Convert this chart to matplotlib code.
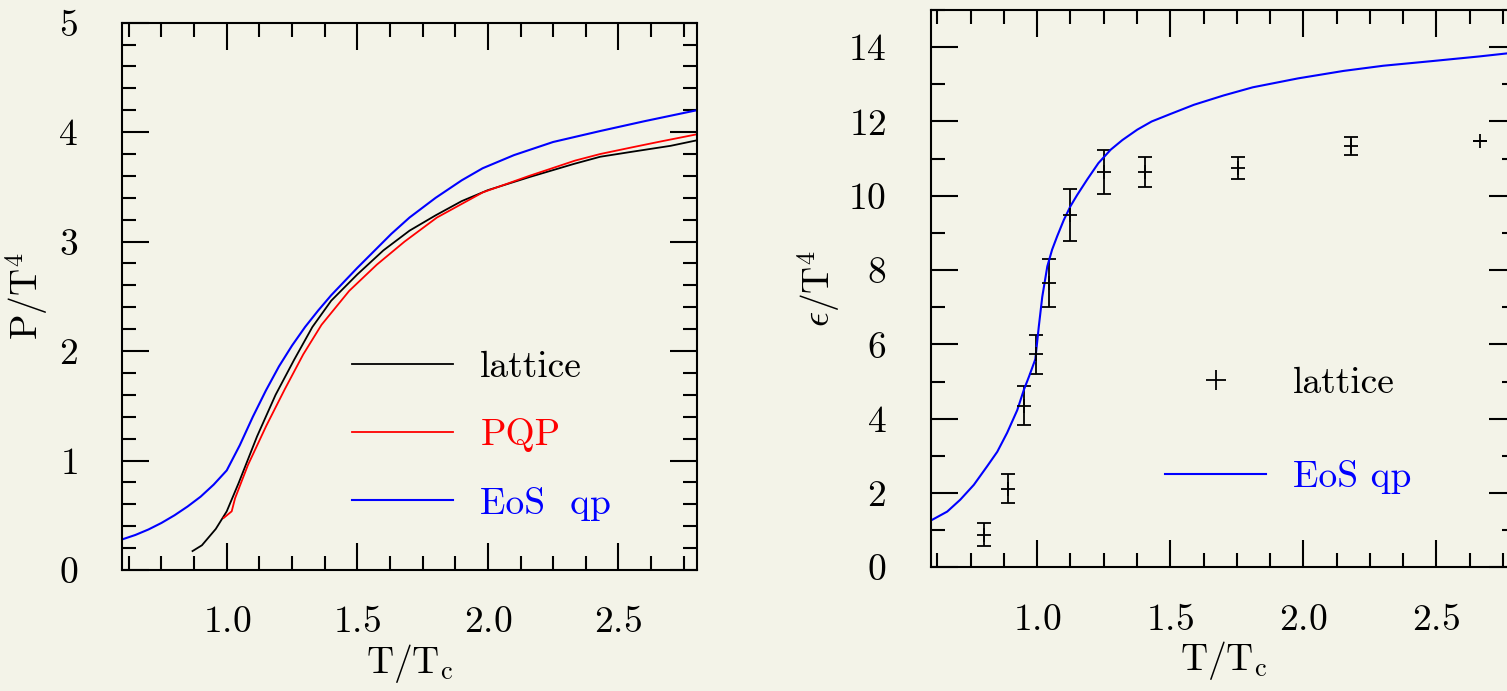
import matplotlib
matplotlib.use("Agg")
from matplotlib import pyplot as plt
from matplotlib.ticker import MultipleLocator

# ---- data ----
# left panel: P/T^4
t_lat = [0.869, 0.905, 0.958, 1.0, 1.046, 1.116, 1.187, 1.258, 1.328, 1.4, 1.5,
         1.6, 1.7, 1.8, 1.9, 2.0, 2.16, 2.33, 2.43, 2.55, 2.7, 2.8]
p_lat = [0.173, 0.226, 0.375, 0.536, 0.797, 1.22, 1.60, 1.92, 2.22, 2.46, 2.70,
         2.92, 3.10, 3.24, 3.37, 3.47, 3.59, 3.71, 3.775, 3.82, 3.875, 3.925]

t_pqp = [0.988, 1.019, 1.032, 1.081, 1.152, 1.222, 1.293, 1.363, 1.469, 1.575, 1.681,
         1.805, 1.981, 2.158, 2.334, 2.43, 2.55, 2.652, 2.8]
p_pqp = [0.475, 0.536, 0.656, 0.958, 1.32, 1.65, 1.97, 2.24, 2.55, 2.79, 3.0,
         3.22, 3.45, 3.60, 3.74, 3.80, 3.86, 3.91, 3.98]

t_qp = [0.6, 0.65, 0.7, 0.75, 0.8, 0.85, 0.9, 0.95, 1.0, 1.05, 1.1, 1.15, 1.2,
        1.25, 1.3, 1.35, 1.4, 1.5, 1.63, 1.7, 1.8, 1.9, 1.98, 2.1, 2.25, 2.43,
        2.6, 2.8]
p_qp = [0.28, 0.32, 0.37, 0.43, 0.50, 0.58, 0.67, 0.78, 0.91, 1.14, 1.40, 1.64, 1.86,
        2.05, 2.22, 2.37, 2.51, 2.76, 3.07, 3.22, 3.40, 3.56, 3.67, 3.79, 3.91, 4.01,
        4.10, 4.20]

# right panel: eps/T^4
t_eps = [0.80, 0.891, 0.951, 0.997, 1.045, 1.123, 1.252, 1.406, 1.756, 2.179, 2.663]
eps = [0.88, 2.12, 4.35, 5.73, 7.65, 9.47, 10.64, 10.64, 10.75, 11.34, 11.47]
eps_err = [0.31, 0.40, 0.53, 0.52, 0.64, 0.70, 0.58, 0.40, 0.30, 0.24, 0.0]

t_eqp = [0.602, 0.662, 0.711, 0.762, 0.812, 0.85, 0.887, 0.925, 0.95, 0.969, 0.993,
         1.006, 1.019, 1.038, 1.056, 1.075, 1.1, 1.125, 1.15, 1.188, 1.23, 1.276,
         1.32, 1.376, 1.43, 1.5, 1.589, 1.7, 1.81, 1.98, 2.15, 2.3, 2.49, 2.66, 2.8]
e_qp = [1.265, 1.50, 1.82, 2.22, 2.72, 3.11, 3.62, 4.23, 4.78, 5.13, 5.60,
        6.48, 7.28, 8.10, 8.55, 8.91, 9.35, 9.72, 10.02, 10.44, 10.88, 11.24,
        11.50, 11.78, 12.0, 12.2, 12.45, 12.7, 12.92, 13.16, 13.36, 13.5, 13.63,
        13.75, 13.86]

BG = "#f3f3e8"
FS = 27

plt.rcParams['font.family'] = ['cmr10', 'DejaVu Serif']
plt.rcParams['mathtext.fontset'] = 'cm'
plt.rcParams['axes.formatter.use_mathtext'] = True
plt.rcParams['axes.unicode_minus'] = False

fig = plt.figure(figsize=(15.07, 6.91), dpi=100, facecolor=BG)
ax1 = fig.add_axes([0.08115, 0.1751, 0.3812, 0.7921])
ax2 = fig.add_axes([0.6176, 0.1790, 0.3886, 0.8065])


def style(ax, ymaj, ymin):
    ax.set_facecolor(BG)
    for s in ax.spines.values():
        s.set_linewidth(1.5)
    ax.xaxis.set_major_locator(MultipleLocator(0.5))
    ax.xaxis.set_minor_locator(MultipleLocator(0.125))
    ax.yaxis.set_major_locator(MultipleLocator(ymaj))
    ax.yaxis.set_minor_locator(MultipleLocator(ymin))
    ax.tick_params(which='both', direction='in', top=True, right=True,
                   width=1.5, labelsize=FS)
    ax.tick_params(which='major', length=19.4)
    ax.tick_params(which='minor', length=9.8)
    ax.tick_params(axis='x', pad=26)
    ax.tick_params(axis='y', pad=32)
    ax.set_xlim(0.6, 2.8)


# ---- left: pressure ----
style(ax1, 1, 0.2)
ax1.plot(t_lat, p_lat, color='black', lw=1.3, label='lattice')
ax1.plot(t_pqp, p_pqp, color='red', lw=1.3, label='PQP')
ax1.plot(t_qp, p_qp, color='blue', lw=1.5, label='EoS  qp')
ax1.set_ylim(0, 5)
ax1.set_xlabel(r'$\mathrm{T/T_c}$', fontsize=FS, labelpad=2)
ax1.set_ylabel(r'$\mathrm{P/T^4}$', fontsize=FS, labelpad=6)
ax1.legend(loc='upper left', bbox_to_anchor=(0.40, 0.40), frameon=False,
           fontsize=FS, handlelength=2.7, handletextpad=0.72, labelspacing=0.91,
           borderpad=0, borderaxespad=0, labelcolor='linecolor')

# ---- right: energy density ----
style(ax2, 2, 1)
eb = ax2.errorbar(t_eps, eps, yerr=eps_err, fmt='+', color='black', ms=10,
                  mew=1.3, elinewidth=1.3, capsize=5, capthick=1.3)
qp_line, = ax2.plot(t_eqp, e_qp, color='blue', lw=1.5)
ax2.set_ylim(0, 15)
ax2.set_xlabel(r'$\mathrm{T/T_c}$', fontsize=FS, labelpad=2)
ax2.set_ylabel(r'$\epsilon/\mathrm{T^4}$', fontsize=FS, labelpad=4)
leg = ax2.legend([eb[0], qp_line], ['lattice', 'EoS qp'], loc='upper left',
                 bbox_to_anchor=(0.40, 0.359), frameon=False, fontsize=FS,
                 handlelength=2.7, handletextpad=0.72, labelspacing=1.6,
                 borderpad=0, borderaxespad=0, markerscale=1.4)
leg.get_texts()[1].set_color('blue')

fig.savefig("out.png", dpi=100, facecolor=BG)
